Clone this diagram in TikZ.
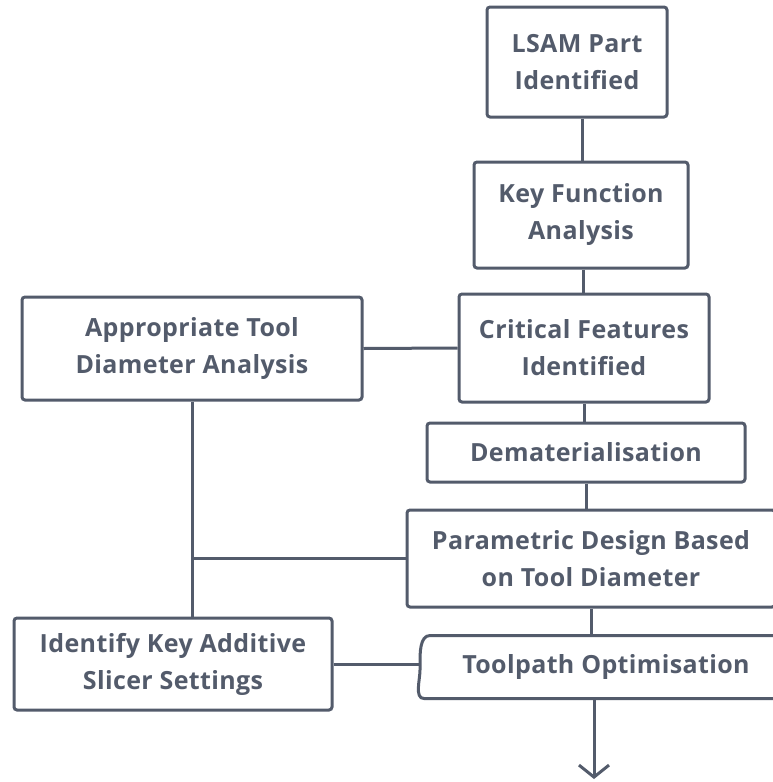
\documentclass[tikz,border=0pt]{standalone}
\usepackage{fontspec}
\setmainfont{Open Sans}[LetterSpace=1.5]
\usetikzlibrary{arrows.meta}
\definecolor{slate}{HTML}{535B6B}
\tikzset{
	box/.style={draw=slate, line width=3pt, rounded corners=3pt, align=center, text=slate,
		inner sep=0pt, font=\fontsize{25}{37}\bfseries\selectfont},
	link/.style={draw=slate, line width=3pt},
}

\begin{document}
\begin{tikzpicture}[x=1pt, y=-1pt]
	\useasboundingbox (0,0) rectangle (773,782);
	\clip (0,0) rectangle (773,782);
	\node [box, minimum width=180pt, minimum height=110pt] (lsam) at (577,62) {LSAM Part\\Identified};
	\node [box, minimum width=214pt, minimum height=106pt] (keyfn) at (581,215) {Key Function\\Analysis};
	\node [box, minimum width=250pt, minimum height=108pt] (critical) at (584,348) {Critical Features\\Identified};
	\node [box, minimum width=340pt, minimum height=103pt] (tooldia) at (192,348.5) {Appropriate Tool\\Diameter Analysis};
	\node [box, minimum width=318pt, minimum height=59pt] (demat) at (586,452.5) {Dematerialisation};
	\node [box, minimum width=368pt, minimum height=97pt] (param) at (591,558.5) {Parametric Design Based\\on Tool Diameter};
	\node [box, draw=none, minimum width=367pt, minimum height=60pt] (toolpath) at (606,667) {Toolpath Optimisation};
	\node [box, minimum width=318pt, minimum height=92pt] (slicer) at (173,664) {Identify Key Additive\\Slicer Settings};
	% toolpath box has a bowed left side
	\draw [link, rounded corners=3pt]
	([xshift=12pt]toolpath.north west) to[out=180,in=90] ([xshift=-1pt]toolpath.west)
		to[out=-90,in=180] ([xshift=6pt]toolpath.south west) -- (toolpath.south east)
		-- (toolpath.north east) -- cycle;
	\coordinate (end) at (594,779);

	\draw [link] ([xshift=5pt]lsam.south) -- ([xshift=5pt]lsam.south |- keyfn.north);
	\draw [link] ([xshift=2pt]keyfn.south) -- ([xshift=2pt]keyfn.south |- critical.north);
	\draw [link] (critical.south) -- (critical.south |- demat.north);
	\draw [link] (demat.south) -- (demat.south |- param.north);
	\draw [link] (param.south) -- (param.south |- toolpath.north);
	\draw [link] (tooldia.east) -- (critical.west);
	\draw [link] (tooldia.south) -- (tooldia.south |- slicer.north);
	\draw [link] (tooldia.south |- param.west) -- (param.west);
	\draw [link] (slicer.east) -- (slicer.east -| toolpath.west);
	\draw [link, -{Straight Barb[length=12pt, width=30pt, line width=3pt]}] (end |- toolpath.south) -- (end);
\end{tikzpicture}
\end{document}
